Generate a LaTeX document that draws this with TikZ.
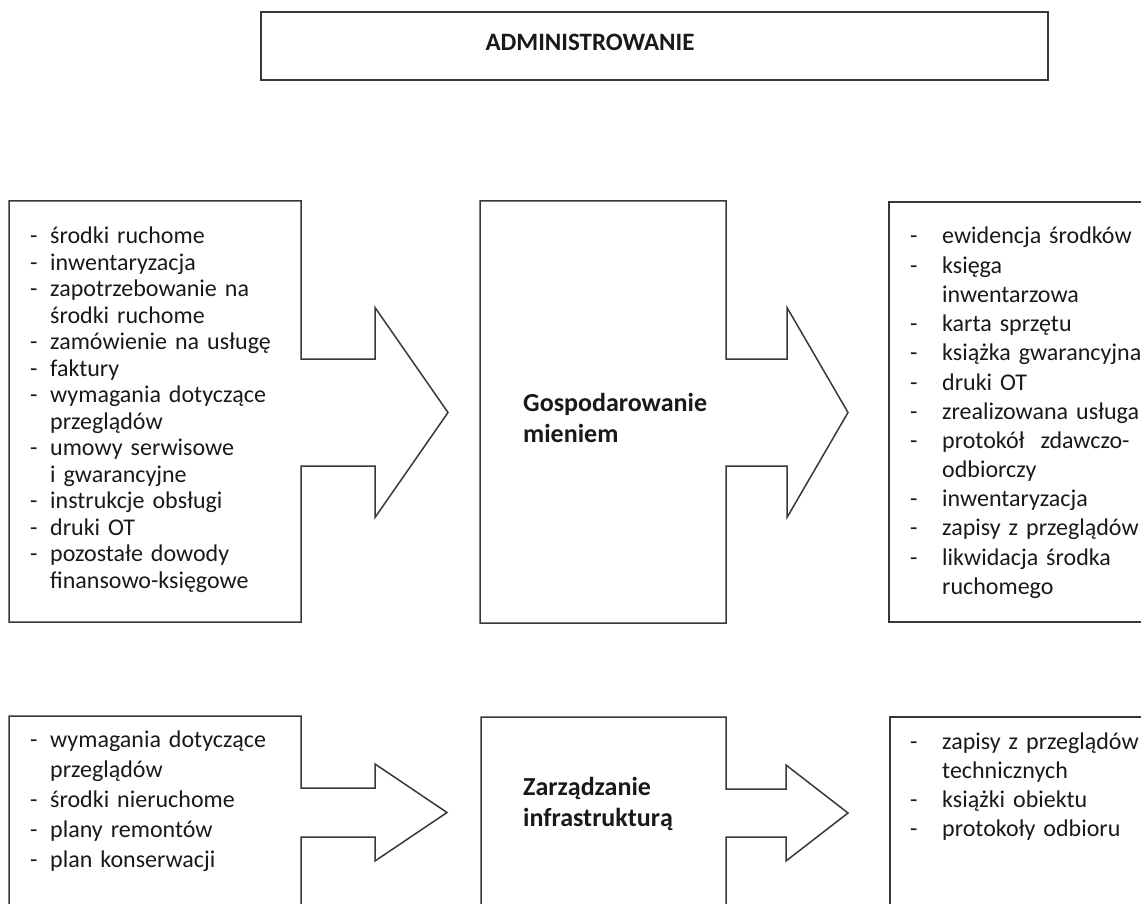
\documentclass[tikz,border=0pt]{standalone}
\usepackage{fontspec}
\setmainfont{Carlito}
\usetikzlibrary{calc}

% list entries: a dash, then the text at a fixed indent
\newcommand{\dashitem}[2][20pt]{\makebox[#1][l]{-}#2}
\newcommand{\contitem}[2][20pt]{\hspace*{#1}#2}

% outline of a box whose right side opens into a block arrow
% #1 box node, #2 arrow base point on the box edge, #3 half shaft height,
% #4 half head height, #5 shaft length, #6 tip distance
\newcommand{\boxwitharrow}[6]{%
  \draw[frame] ($(#2)+(0,-#3)$) -- (#1.north east) -- (#1.north west)
    -- (#1.south west) -- (#1.south east) -- ($(#2)+(0,#3)$)
    -- ++(#5,0) -- ($(#2)+(#5,#4)$) -- ($(#2)+(#6,0)$)
    -- ($(#2)+(#5,-#4)$) -- ($(#2)+(#5,-#3)$) -- cycle;}

\tikzset{
  frame/.style={draw=black!78, line width=1.5pt, line join=miter},
  region/.style={anchor=north west, inner sep=0pt, outer sep=0pt},
  listtext/.style={anchor=base west, inner sep=0pt, text width=260pt,
    align=left, text=black!90},
  procname/.style={anchor=base west, inner sep=0pt, text width=220pt,
    align=left, text=black!90},
  title/.style={anchor=base, inner sep=0pt, text=black!90,
    font=\fontsize{25}{30}\selectfont\bfseries}
}

\begin{document}
\begin{tikzpicture}[x=1pt,y=-1pt]
\useasboundingbox (0,0) rectangle (1141,904);
\clip (0,0) rectangle (1141,904);

% areas
\node[region, minimum width=787pt, minimum height=68pt] (admin) at (261,12) {};
\node[region, minimum width=292pt, minimum height=421pt] (in1) at (9,201) {};
\node[region, minimum width=246pt, minimum height=422pt] (proc1) at (480,201) {};
\node[region, minimum width=270pt, minimum height=420pt] (out1) at (889,202) {};
\node[region, minimum width=292pt, minimum height=200pt] (in2) at (9,716) {};
\node[region, minimum width=245pt, minimum height=200pt] (proc2) at (481,717) {};
\node[region, minimum width=270pt, minimum height=200pt] (out2) at (890,717) {};

% arrow base points
\coordinate (a1) at ($(in1.north east)+(0,211.5)$);
\coordinate (a2) at ($(proc1.north east)+(0,211.5)$);
\coordinate (a3) at ($(in2.north east)+(0,96.5)$);
\coordinate (a4) at ($(proc2.north east)+(0,96)$);

% outlines
\draw[frame] (admin.north west) rectangle (admin.south east);
\boxwitharrow{in1}{a1}{53.5}{105}{74}{147}
\boxwitharrow{proc1}{a2}{53.5}{105}{61}{122}
\draw[frame] (out1.north west) rectangle (out1.south east);
\boxwitharrow{in2}{a3}{24.5}{48.5}{74}{146}
\boxwitharrow{proc2}{a4}{24}{48}{60}{122}
\draw[frame] (out2.north west) rectangle (out2.south east);

% texts
\node[title] (admintitle) at (590,51) {ADMINISTROWANIE};

\node[procname, font=\fontsize{26}{31}\selectfont\bfseries] (proc1name) at (523,411)
  {Gospodarowanie\\mieniem};
\node[procname, font=\fontsize{26}{31}\selectfont\bfseries] (proc2name) at (523,795)
  {Zarządzanie\\infrastrukturą};

\node[listtext, font=\fontsize{24}{26.5}\selectfont] (in1list) at (30,244) {%
  \dashitem{środki ruchome}\\
  \dashitem{inwentaryzacja}\\
  \dashitem{zapotrzebowanie na}\\
  \contitem{środki ruchome}\\
  \dashitem{zamówienie na usługę}\\
  \dashitem{faktury}\\
  \dashitem{wymagania dotyczące}\\
  \contitem{przeglądów}\\
  \dashitem{umowy serwisowe}\\
  \contitem{i gwarancyjne}\\
  \dashitem{instrukcje obsługi}\\
  \dashitem{druki OT}\\
  \dashitem{pozostałe dowody}\\
  \contitem{finansowo-księgowe}};

\node[listtext, font=\fontsize{24}{29.2}\selectfont] (out1list) at (910,244) {%
  \dashitem[32pt]{ewidencja środków}\\
  \dashitem[32pt]{księga}\\
  \contitem[32pt]{inwentarzowa}\\
  \dashitem[32pt]{karta sprzętu}\\
  \dashitem[32pt]{książka gwarancyjna}\\
  \dashitem[32pt]{druki OT}\\
  \dashitem[32pt]{zrealizowana usługa}\\
  \dashitem[32pt]{protokół\ \ zdawczo-}\\
  \contitem[32pt]{odbiorczy}\\
  \dashitem[32pt]{inwentaryzacja}\\
  \dashitem[32pt]{zapisy z przeglądów}\\
  \dashitem[32pt]{likwidacja środka}\\
  \contitem[32pt]{ruchomego}};

\node[listtext, font=\fontsize{24}{30}\selectfont] (in2list) at (30,747) {%
  \dashitem{wymagania dotyczące}\\
  \contitem{przeglądów}\\
  \dashitem{środki nieruchome}\\
  \dashitem{plany remontów}\\
  \dashitem{plan konserwacji}};

\node[listtext, font=\fontsize{24}{29}\selectfont] (out2list) at (910,749) {%
  \dashitem[32pt]{zapisy z przeglądów}\\
  \contitem[32pt]{technicznych}\\
  \dashitem[32pt]{książki obiektu}\\
  \dashitem[32pt]{protokoły odbioru}};
\end{tikzpicture}
\end{document}
